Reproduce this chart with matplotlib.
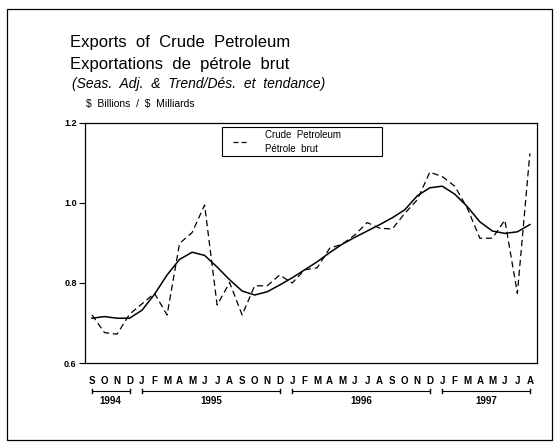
import matplotlib
matplotlib.use("Agg")
import matplotlib.pyplot as plt
from matplotlib.patches import Rectangle
from matplotlib.lines import Line2D
import matplotlib.transforms as mtransforms

plt.rcParams['font.family'] = ['Liberation Sans', 'DejaVu Sans']

# ---- data ----
month_labels = ["S", "O", "N", "D",
                "J", "F", "M", "A", "M", "J", "J", "A", "S", "O", "N", "D",
                "J", "F", "M", "A", "M", "J", "J", "A", "S", "O", "N", "D",
                "J", "F", "M", "A", "M", "J", "J", "A"]
years = ["1994", "1995", "1996", "1997"]
year_start = [0, 4, 16, 28]
year_end = [3, 15, 27, 35]

seas_adj = [0.720, 0.676, 0.672, 0.722, 0.748, 0.774, 0.720, 0.899, 0.926, 0.995,
            0.745, 0.801, 0.720, 0.793, 0.793, 0.820, 0.800, 0.833, 0.838, 0.887,
            0.897, 0.920, 0.951, 0.937, 0.935, 0.974, 1.008, 1.077, 1.066, 1.042,
            0.987, 0.912, 0.912, 0.957, 0.774, 1.124]
trend = [0.712, 0.716, 0.712, 0.712, 0.732, 0.772, 0.820, 0.859, 0.877, 0.869,
         0.840, 0.808, 0.780, 0.770, 0.778, 0.795, 0.813, 0.833, 0.853, 0.876,
         0.897, 0.914, 0.930, 0.946, 0.963, 0.983, 1.018, 1.038, 1.042, 1.022,
         0.991, 0.953, 0.930, 0.924, 0.928, 0.946]

yticks = [0.6, 0.8, 1.0, 1.2]
ytick_labels = ["0.6", "0.8", "1.0", "1.2"]

W, H = 560, 444
fig = plt.figure(figsize=(W / 100, H / 100), dpi=100)

def fx(px):
    return px / W

def fy(py):
    return 1 - py / H

# outer frame
fig.patches.append(Rectangle((fx(7), fy(440)), fx(552) - fx(7), fy(9) - fy(440),
                             transform=fig.transFigure, fill=False, edgecolor='black',
                             linewidth=0.9))

# titles
fig.text(fx(70), fy(42), "Exports  of  Crude  Petroleum", fontsize=12, va='center', ha='left')
fig.text(fx(70), fy(65), "Exportations  de  pétrole  brut", fontsize=12, va='center', ha='left')
fig.text(fx(72), fy(84), "(Seas.  Adj.  &  Trend/Dés.  et  tendance)", fontsize=10,
         style='italic', va='center', ha='left')
fig.text(fx(86), fy(104), r"\$  Billions  /  \$  Milliards", fontsize=7.5, va='center', ha='left')

ax = fig.add_axes([fx(85), fy(363), fx(537) - fx(85), fy(123) - fy(363)])
x = list(range(len(month_labels)))
ax.plot(x, trend, color='black', linewidth=1.1, solid_joinstyle='round')
ax.plot(x, seas_adj, color='black', linewidth=0.9, dashes=(5, 3))

ax.set_ylim(0.6, 1.2)
ax.set_xlim(-0.56, 35.57)
ax.set_yticks(yticks)
ax.set_yticklabels(ytick_labels, fontsize=6.5, fontweight='bold')
ax.set_xticks(x)
ax.set_xticklabels(month_labels, fontsize=7, fontweight='bold')
ax.tick_params(axis='x', length=0, pad=9)
ax.tick_params(axis='y', length=4, width=0.8, pad=2, direction='out')
for s in ax.spines.values():
    s.set_linewidth(0.9)

# year brackets
blend = mtransforms.blended_transform_factory(ax.transData, fig.transFigure)
for yr, a, b in zip(years, year_start, year_end):
    ax.add_line(Line2D([a, b], [fy(391), fy(391)], transform=blend, color='black',
                       linewidth=0.8, clip_on=False))
    for e in (a, b):
        ax.add_line(Line2D([e, e], [fy(389), fy(393)], transform=blend, color='black',
                           linewidth=1.0, clip_on=False))
    ax.text((a + b) / 2, fy(401), yr, transform=blend, ha='center', va='center',
            fontsize=7, fontweight='bold')

# legend box
fig.patches.append(Rectangle((fx(222), fy(156)), fx(382) - fx(222), fy(127) - fy(156),
                             transform=fig.transFigure, fill=False, edgecolor='black',
                             linewidth=0.8))
fig.lines.append(Line2D([fx(233), fx(248)], [fy(142), fy(142)], transform=fig.transFigure,
                        color='black', linewidth=0.9, dashes=(4, 2.5)))
fig.text(fx(265), fy(134.5), "Crude  Petroleum", fontsize=7, va='center', ha='left')
fig.text(fx(265), fy(149), "Pétrole  brut", fontsize=7, va='center', ha='left')

fig.savefig("out.png", dpi=100)
